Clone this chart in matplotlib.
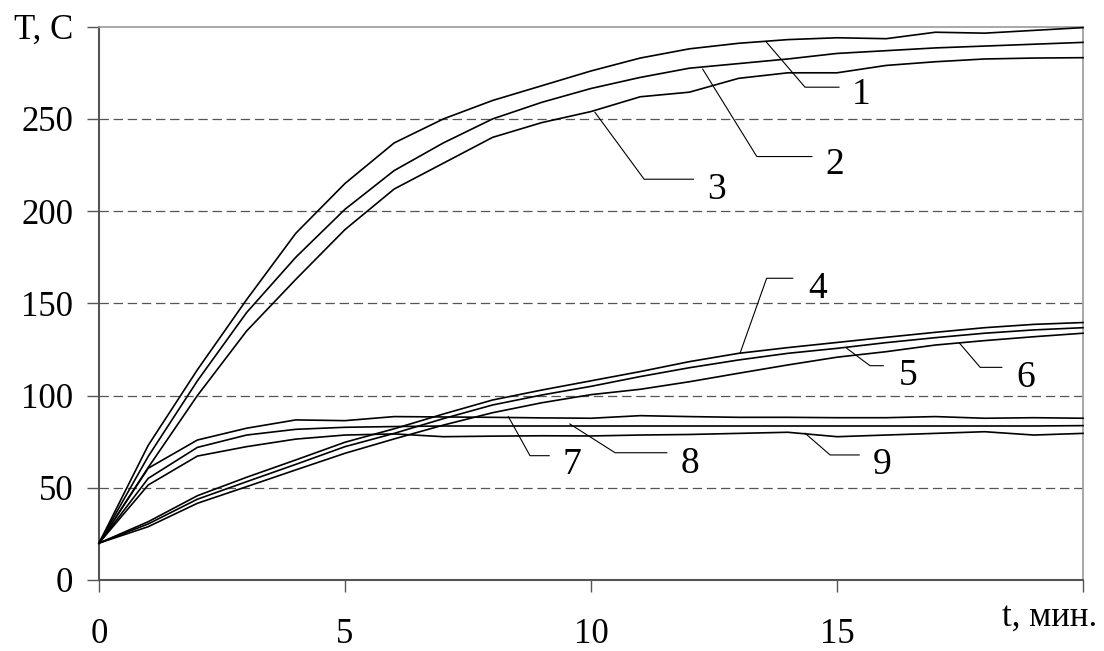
import matplotlib
matplotlib.use("Agg")
import matplotlib.pyplot as plt

# ---- data ----
t_min = list(range(0, 21))

curve1 = [20, 73, 114, 152, 188, 215, 237, 250, 260, 268, 276, 283, 288, 291, 293, 294, 293.5, 297, 296.5, 298, 299.5]
curve2 = [20, 67, 108, 145, 175, 201, 222, 237, 250, 259, 266.5, 272.5, 277.5, 280, 282.5, 285.5, 287, 288.5, 289.5, 290.5, 291.5]
curve3 = [20, 61, 100, 135, 163, 190, 212, 226, 240, 248, 254, 262, 264.5, 272, 275, 275, 279, 281, 282.5, 283, 283.2]
curve4 = [20, 31.6, 45.7, 55.7, 65.1, 74.7, 82, 90, 97.6, 103, 108, 113, 118.4, 122.9, 126, 128.8, 131.6, 134.3, 136.8, 138.6, 139.6]
curve5 = [20, 30.4, 43.8, 53.3, 62.7, 72.3, 79.5, 87.5, 94.9, 100.3, 105, 110.3, 115.1, 119.3, 122.9, 125.6, 128.7, 131.4, 133.8, 135.6, 136.8]
curve6 = [20, 28.9, 41.6, 50.6, 59.7, 68.7, 76.5, 84, 90.7, 96.1, 100.5, 103.4, 107.5, 112.1, 116.6, 120.8, 123.8, 127.4, 129.8, 131.9, 133.8]
curve7 = [20, 60.6, 75.9, 82.3, 86.8, 86.4, 88.6, 88.4, 88.2, 87.9, 87.7, 89.1, 88.6, 88.2, 88.2, 88, 88, 88.6, 87.7, 88, 87.7]
curve8 = [20, 55.1, 71.9, 78.6, 81.7, 82.8, 83.2, 83.5, 83.5, 83.5, 83.5, 83.5, 83.5, 83.5, 83.5, 83.5, 83.5, 83.5, 83.5, 83.5, 83.7]
curve9 = [20, 51.5, 67.2, 72.3, 76.4, 78.6, 79.2, 77.7, 78.0, 78.2, 78.1, 78.6, 78.9, 79.5, 80.1, 77.7, 78.6, 79.5, 80.4, 78.6, 79.5]

series = [curve1, curve2, curve3, curve4, curve5, curve6, curve7, curve8, curve9]
curve_labels = ["1", "2", "3", "4", "5", "6", "7", "8", "9"]

x_ticks = [0, 5, 10, 15, 20]
x_tick_labels = ["0", "5", "10", "15", ""]
y_ticks = [0, 50, 100, 150, 200, 250, 300]
y_tick_labels = ["0", "50", "100", "150", "200", "250", "T, C"]

# ---- layout of leader lines (start on curve, elbow, end) and label positions ----
leaders = [
    [(13.56, 291.8), (14.35, 267.2), (15.04, 267.2), (15.49, 263)],
    [(12.27, 277.0), (13.37, 229.6), (14.49, 229.6), (14.95, 225)],
    [(10.08, 253.6), (11.08, 217.3), (12.08, 217.3), (12.55, 211.5)],
    [(13.03, 123.0), (13.57, 163.6), (14.10, 163.6), (14.60, 157.8)],
    [(15.20, 125.6), (15.67, 116.2), (15.94, 116.2), (16.44, 110.6)],
    [(17.49, 128.4), (17.91, 115.3), (18.35, 115.3), (18.84, 109.5)],
    [(8.32, 88.6), (8.76, 67.4), (9.15, 67.4), (9.62, 62.4)],
    [(9.57, 84.6), (10.49, 69.0), (11.54, 69.0), (12.02, 63.3)],
    [(14.35, 79.6), (14.86, 67.8), (15.45, 67.8), (15.92, 62.4)],
]

plt.rcParams["font.family"] = ["Liberation Serif", "DejaVu Serif"]

fig = plt.figure(figsize=(11.04, 6.51), dpi=100)
ax = fig.add_axes([99 / 1104, 1 - 580 / 651, (1083 - 99) / 1104, (580 - 26.7) / 651])

for ys in series:
    ax.plot(t_min, ys, color="black", lw=1.2, solid_joinstyle="miter", clip_on=False, zorder=3)

for (p0, p1, p2, ptxt), lab in zip(leaders, curve_labels):
    ax.plot([p0[0], p1[0], p2[0]], [p0[1], p1[1], p2[1]], color="black", lw=0.8, zorder=3)
    ax.text(ptxt[0], ptxt[1], lab, fontsize=27, ha="center", va="center", zorder=4)

ax.set_xlim(0, 20)
ax.set_ylim(0, 300)
ax.set_xticks(x_ticks)
ax.set_xticklabels(x_tick_labels)
ax.set_yticks(y_ticks)
ax.set_yticklabels(y_tick_labels)
ax.get_yticklabels()[-1].set_fontsize(26)

for y in y_ticks[1:-1]:
    ax.axhline(y, color="#555555", lw=0.9, ls=(0, (7.5, 3.8)), zorder=1)

ax.tick_params(axis="x", direction="out", length=8.5, width=1, color="#555555",
               pad=19, labelsize=25)
ax.tick_params(axis="y", direction="out", length=8.5, width=1, color="#555555",
               pad=10, labelsize=25)

for side in ["left", "bottom"]:
    ax.spines[side].set_color("#555555")
    ax.spines[side].set_linewidth(1.5)
for side in ["top", "right"]:
    ax.spines[side].set_color("#9a9a9a")
    ax.spines[side].set_linewidth(1.2)

fig.text(1050 / 1104, 1 - 617 / 651, "t, мин.", fontsize=25, ha="center", va="center")

fig.savefig("out.png", dpi=100)
